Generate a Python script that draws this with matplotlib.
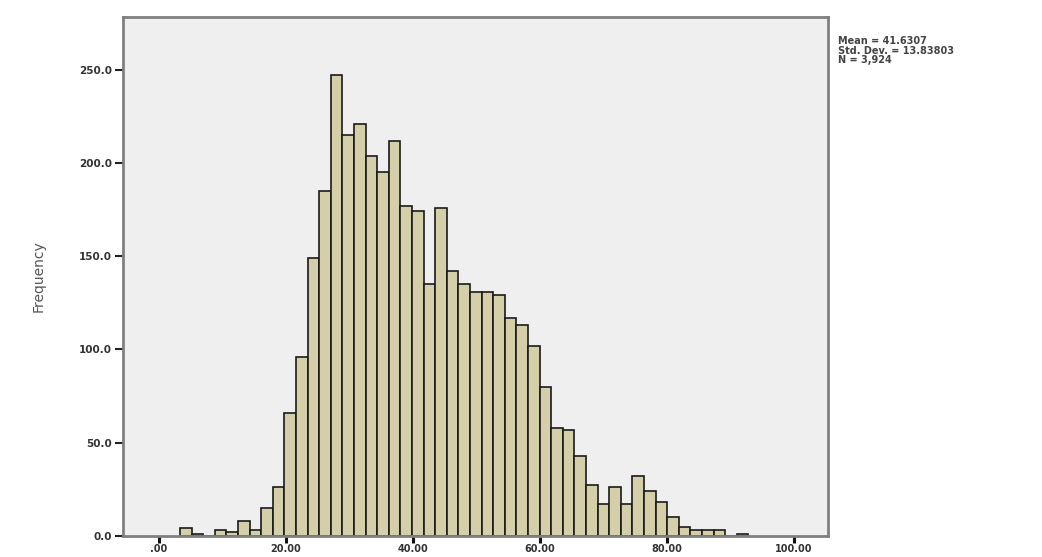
import numpy as np
import matplotlib
matplotlib.use("Agg")
import matplotlib.pyplot as plt

# histogram counts, one per bin, left to right
counts = [4, 1, 0, 3, 2, 8, 3, 15, 26,
          66, 96, 149, 185,
          247, 215, 221, 204, 195, 212, 177, 174,
          135, 176, 142, 135, 131, 131, 129, 117, 113, 102,
          80, 58, 57, 43, 27, 17, 26, 17, 32, 24, 18, 10, 5,
          3, 3, 3, 0, 1]
bin_start = 3.3
bin_width = 1.827

x_ticks = [0, 20, 40, 60, 80, 100]
x_tick_labels = [".00", "20.00", "40.00", "60.00", "80.00", "100.00"]
y_ticks = [0, 50, 100, 150, 200, 250]
y_tick_labels = ["0.0", "50.0", "100.0", "150.0", "200.0", "250.0"]

stats_text = "Mean = 41.6307\nStd. Dev. = 13.83803\nN = 3,924"

edges = bin_start + bin_width * np.arange(len(counts))

fig = plt.figure(figsize=(10.42, 5.57), dpi=100)
fig.patch.set_facecolor("white")
ax = fig.add_axes([0.1178, 0.0380, 0.6768, 0.9315])
ax.set_facecolor("#efefef")

ax.bar(edges, counts, width=bin_width, align="edge",
       facecolor="#d4cfa8", edgecolor="#1a1a1a", linewidth=1.2)

ax.set_xlim(-5.72, 105.35)
ax.set_ylim(0, 278.3)

ax.set_xticks(x_ticks)
ax.set_xticklabels(x_tick_labels, fontsize=7, fontweight="bold", color="#333333")
ax.set_yticks(y_ticks)
ax.set_yticklabels(y_tick_labels, fontsize=7.5, fontweight="bold", color="#333333")
ax.tick_params(axis="x", direction="out", length=5, width=2.2, color="#111111", pad=1)
ax.tick_params(axis="y", direction="out", length=6, width=1.5, color="#222222", pad=2)

for side in ["left", "right", "top", "bottom"]:
    ax.spines[side].set_color("#808080")
    ax.spines[side].set_linewidth(2.0)

ax.set_ylabel("Frequency", fontsize=10, color="#555555", labelpad=24)

fig.text(0.804, 0.935, stats_text, fontsize=7, fontweight="bold",
         color="#444444", va="top", ha="left", linespacing=0.95)

plt.savefig("out.png", dpi=100)
plt.close()
